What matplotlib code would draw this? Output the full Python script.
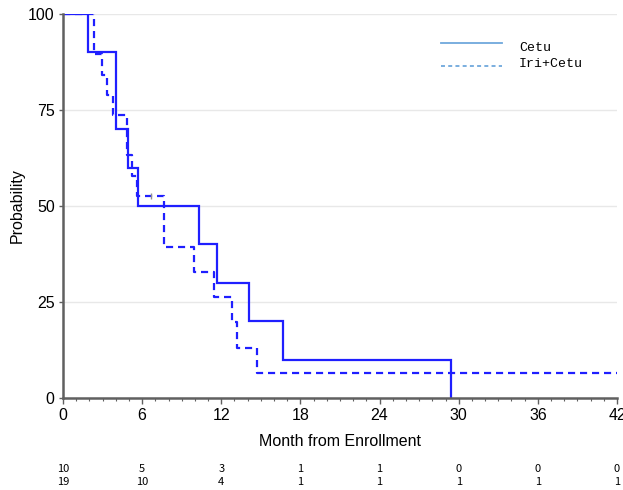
import numpy as np
import matplotlib
matplotlib.use("Agg")
import matplotlib.pyplot as plt
from matplotlib.ticker import MultipleLocator

# Kaplan-Meier step data (months, survival %)
cetu_t = [0, 1.9, 4.0, 4.9, 5.7, 10.3, 11.7, 14.1, 16.7, 29.4]
cetu_s = [100, 90, 70, 60, 50, 40, 30, 20, 10, 0]

iri_t = [0, 2.35, 2.93, 3.3, 3.77, 4.83, 5.25, 5.6, 7.66, 9.93, 11.47, 12.8, 13.2, 14.7, 42]
iri_s = [100, 89.5, 84.2, 78.9, 73.7, 63.2, 57.9, 52.6, 39.4, 32.8, 26.3, 19.7, 13.1, 6.6, 6.6]

censor_t = [6.7]
censor_s = [52.6]

risk_times = [0, 6, 12, 18, 24, 30, 36, 42]
risk_cetu = [10, 5, 3, 1, 1, 0, 0, 0]
risk_iri = [19, 10, 4, 1, 1, 1, 1, 1]

blue = "#1f1fff"
axis_gray = "#606060"
plt.rcParams["font.family"] = ["Liberation Sans", "DejaVu Sans"]

fig = plt.figure(figsize=(6.23, 4.9), dpi=100)
ax = fig.add_axes([0.1011, 0.1878, 0.8893, 0.7836])

ax.step(cetu_t, cetu_s, where="post", color=blue, lw=1.6, solid_joinstyle="miter")
ax.step(iri_t, iri_s, where="post", color=blue, lw=1.6, ls=(0, (3.2, 2.2)))
ax.plot(censor_t, censor_s, marker="|", color="#909090", ms=5, mew=1, ls="none")

ax.set_xlim(0, 42)
ax.set_ylim(0, 100)
ax.set_xticks(risk_times)
ax.xaxis.set_minor_locator(MultipleLocator(1))
ax.set_yticks([0, 25, 50, 75, 100])
ax.grid(axis="y", color="#e8e8e8", lw=1)
ax.set_axisbelow(True)

for s in ["top", "right"]:
    ax.spines[s].set_visible(False)
for s in ["left", "bottom"]:
    ax.spines[s].set_color(axis_gray)
    ax.spines[s].set_linewidth(1.8)

ax.tick_params(axis="both", which="major", direction="out", length=4, width=1,
               color=axis_gray, labelsize=11.5, pad=3)
ax.tick_params(axis="x", which="minor", direction="out", length=2.5, width=0.8, color=axis_gray)
ax.tick_params(axis="y", which="major", length=3)

ax.set_xlabel("Month from Enrollment", fontsize=11.5, labelpad=8)
ax.set_ylabel("Probability", fontsize=11.5, labelpad=2)

# legend drawn by hand to mimic the original layout
ax.plot([0.682, 0.792], [0.924, 0.924], transform=ax.transAxes, color="#6fa8dc", lw=1.3, clip_on=False)
ax.plot([0.682, 0.792], [0.865, 0.865], transform=ax.transAxes, color="#6fa8dc", lw=1.3,
        ls=(0, (2.2, 1.8)), clip_on=False)
ax.text(0.823, 0.912, "Cetu", transform=ax.transAxes, fontsize=9.5, family="Liberation Mono",
        va="center", ha="left")
ax.text(0.823, 0.871, "Iri+Cetu", transform=ax.transAxes, fontsize=9.5, family="Liberation Mono",
        va="center", ha="left")

# number at risk table
for t, a, b in zip(risk_times, risk_cetu, risk_iri):
    ax.annotate(str(a), xy=(t, 0), xycoords=("data", "axes fraction"), xytext=(0, -71),
                textcoords="offset pixels", ha="center", va="center", fontsize=8,
                family=["Noto Sans CJK JP", "DejaVu Sans"])
    ax.annotate(str(b), xy=(t, 0), xycoords=("data", "axes fraction"), xytext=(0, -84),
                textcoords="offset pixels", ha="center", va="center", fontsize=8,
                family=["Noto Sans CJK JP", "DejaVu Sans"])

fig.savefig("out.png", dpi=100)
